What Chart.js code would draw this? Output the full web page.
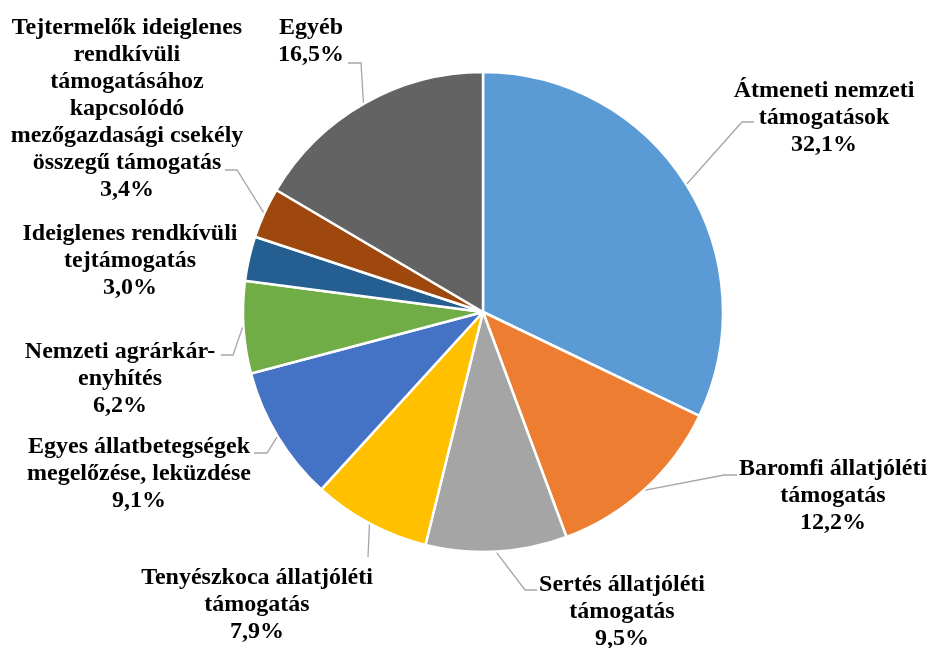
<!DOCTYPE html>
<html>
<head>
<meta charset="utf-8">
<script src="https://cdn.jsdelivr.net/npm/chart.js@4"></script>
<style>
    body { margin: 0; background: #fff; }
    #wrap { width: 932px; height: 648px; }
</style>
</head>
<body>
<div id="wrap"><canvas id="pieChart" width="932" height="648"></canvas></div>
<script>
// categories (wrapped the way the labels show them)
const categories = [
    ['Átmeneti nemzeti', 'támogatások'],
    ['Baromfi állatjóléti', 'támogatás'],
    ['Sertés állatjóléti', 'támogatás'],
    ['Tenyészkoca állatjóléti', 'támogatás'],
    ['Egyes állatbetegségek', 'megelőzése, leküzdése'],
    ['Nemzeti agrárkár-', 'enyhítés'],
    ['Ideiglenes rendkívüli', 'tejtámogatás'],
    ['Tejtermelők ideiglenes', 'rendkívüli', 'támogatásához', 'kapcsolódó', 'mezőgazdasági csekély', 'összegű támogatás'],
    ['Egyéb']
];
const shares = [32.1, 12.2, 9.5, 7.9, 9.1, 6.2, 3.0, 3.4, 16.5];
const colors = ['#5B9BD5', '#ED7D31', '#A5A5A5', '#FFC000', '#4472C4', '#70AD47', '#255E91', '#9E480E', '#636363'];

// label placement: text centre x, first line y, and leader line points (elbow, end)
const labelPos = [
    { x: 824, y: 91, line: [[742, 122], [754, 122]] },
    { x: 833, y: 469, line: [[724, 475], [737, 475]] },
    { x: 622, y: 585, line: [[525, 590], [537, 590]] },
    { x: 257, y: 578, line: [[368, 557]] },
    { x: 139, y: 447, line: [[267, 453], [254, 453]] },
    { x: 120, y: 352, line: [[233, 355], [221, 355]] },
    { x: 130, y: 234, line: null },
    { x: 127, y: 28, line: [[237, 170], [225, 170]] },
    { x: 311, y: 28, line: [[361, 63], [348, 63]] }
];

const labelPlugin = {
    id: 'pieLabels',
    afterDraw(chart) {
        const ctx = chart.ctx;
        const arcs = chart.getDatasetMeta(0).data;
        ctx.save();
        // leader lines
        ctx.strokeStyle = '#A6A6A6';
        ctx.lineWidth = 1.3;
        arcs.forEach((arc, i) => {
            const pos = labelPos[i];
            if (!pos.line) return;
            const p = arc.getProps(['x', 'y', 'startAngle', 'endAngle', 'outerRadius'], true);
            const mid = (p.startAngle + p.endAngle) / 2;
            ctx.beginPath();
            ctx.moveTo(p.x + Math.cos(mid) * (p.outerRadius + 1), p.y + Math.sin(mid) * (p.outerRadius + 1));
            pos.line.forEach(pt => ctx.lineTo(pt[0], pt[1]));
            ctx.stroke();
        });
        // texts
        ctx.fillStyle = '#000';
        ctx.font = 'bold 24px "Liberation Serif", "Times New Roman", serif';
        ctx.textAlign = 'center';
        ctx.textBaseline = 'middle';
        categories.forEach((lines, i) => {
            const pos = labelPos[i];
            const all = lines.concat([shares[i].toFixed(1).replace('.', ',') + '%']);
            all.forEach((t, k) => ctx.fillText(t, pos.x, pos.y + k * 27));
        });
        ctx.restore();
    }
};

new Chart(document.getElementById('pieChart'), {
    type: 'pie',
    data: {
        labels: categories.map(c => c.join(' ')),
        datasets: [{
            data: shares,
            backgroundColor: colors,
            borderColor: '#FFFFFF',
            borderWidth: 2.5
        }]
    },
    options: {
        responsive: false,
        animation: false,
        layout: { padding: { top: 70.75, bottom: 94.75, left: 34, right: 0 } },
        plugins: {
            legend: { display: false },
            tooltip: { enabled: false }
        }
    },
    plugins: [labelPlugin]
});
</script>
</body>
</html>
